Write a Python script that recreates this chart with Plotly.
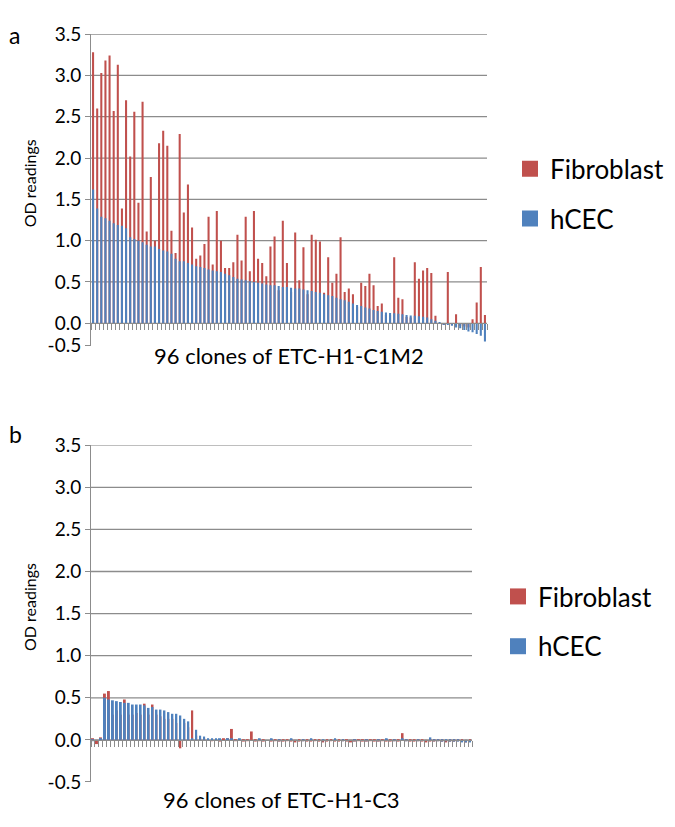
import plotly.graph_objects as go

# page geometry: the plot div sits 8px inside the page (default body margin)
OFF = 8
W, H = 675 - OFF, 827 - OFF

clones = list(range(1, 97))

fibro_a = [3.28, 2.60, 3.03, 3.18, 3.24, 2.57, 3.13, 1.39, 2.70, 2.02, 2.56, 1.46,
           2.68, 1.11, 1.77, 1.00, 2.18, 2.33, 2.15, 1.12, 0.85, 2.29, 1.34, 1.68,
           1.16, 0.78, 0.82, 0.96, 1.29, 0.71, 1.36, 1.00, 0.67, 0.67, 0.74, 1.07,
           0.76, 1.29, 0.63, 1.36, 0.78, 0.73, 0.57, 0.93, 1.05, 0.40, 1.24, 0.73,
           0.38, 1.10, 0.52, 0.92, 0.35, 1.07, 1.01, 0.99, 0.37, 0.80, 0.49, 0.60,
           1.04, 0.38, 0.42, 0.35, 0.20, 0.49, 0.45, 0.60, 0.46, 0.21, 0.24, 0.10,
           0.10, 0.80, 0.31, 0.29, 0.08, 0.07, 0.74, 0.54, 0.64, 0.67, 0.61, 0.09,
           0.00, -0.01, 0.62, -0.02, 0.11, -0.03, -0.04, -0.05, 0.05, 0.25, 0.68, 0.10]
hcec_a = [1.62, 1.39, 1.29, 1.27, 1.24, 1.21, 1.19, 1.18, 1.15, 1.04, 1.02, 1.00,
          0.98, 0.95, 0.93, 0.93, 0.90, 0.88, 0.87, 0.84, 0.78, 0.75, 0.75, 0.73,
          0.71, 0.69, 0.68, 0.67, 0.65, 0.64, 0.63, 0.62, 0.60, 0.58, 0.56, 0.54,
          0.53, 0.52, 0.51, 0.50, 0.49, 0.48, 0.47, 0.46, 0.46, 0.45, 0.44, 0.44,
          0.43, 0.42, 0.42, 0.41, 0.40, 0.39, 0.38, 0.37, 0.35, 0.34, 0.33, 0.31,
          0.29, 0.28, 0.26, 0.24, 0.22, 0.21, 0.19, 0.18, 0.16, 0.15, 0.14, 0.13,
          0.125, 0.12, 0.115, 0.11, 0.10, 0.095, 0.09, 0.085, 0.08, 0.07, 0.05, 0.03,
          0.01, -0.01, -0.02, -0.03, -0.05, -0.06, -0.08, -0.10, -0.11, -0.13, -0.15, -0.22]

fibro_b = [0.02, -0.05, 0.03,
           0.55, 0.58, 0.30, 0.35, 0.30, 0.48, 0.30, 0.30, 0.32, 0.30, 0.43, 0.30,
           0.42, 0.30, 0.28, 0.25, 0.25, 0.25, 0.20, -0.10, 0.20, 0.15,
           0.35, 0.05, 0.02, 0.01, 0.00, -0.01, 0.00, -0.02, 0.01, 0.02, 0.13, -0.01,
           0.00, -0.02, -0.01, 0.10,
           -0.02, -0.01, -0.02, 0.00, -0.02, -0.01, -0.02, -0.02, -0.01, -0.02,
           -0.03, -0.02, -0.01, -0.02, -0.02, -0.01, -0.02, -0.03, -0.02, -0.01,
           -0.02, -0.02, -0.01, -0.02, -0.03, -0.02, -0.01, -0.02, -0.02, -0.01,
           -0.02, -0.02, -0.01, -0.02, -0.02, -0.01, -0.02, 0.08, -0.01, -0.02,
           -0.02, -0.01, -0.02, -0.03, -0.02, -0.02, -0.01, -0.02, -0.03, -0.02,
           -0.02, -0.01, -0.02, -0.03, -0.02]
hcec_b = [-0.01, 0.00, 0.01,
          0.50, 0.48, 0.47, 0.46, 0.45, 0.44, 0.44, 0.42, 0.42, 0.42, 0.41, 0.38,
          0.39, 0.36, 0.36, 0.35, 0.33, 0.31, 0.31, 0.29, 0.25, 0.22,
          0.01, 0.12, 0.05, 0.04, 0.02, 0.01, 0.01, 0.01, 0.00, 0.01, 0.01, 0.00,
          0.01, 0.00, 0.00, 0.00,
          0.00, 0.01, 0.00, 0.00, 0.01, 0.00, -0.01, 0.00, 0.00, 0.01,
          0.00, 0.00, -0.01, 0.00, 0.01, 0.00, 0.00, -0.01, 0.00, 0.00,
          0.01, 0.00, -0.01, 0.00, 0.00, -0.01, 0.00, 0.00, -0.01, 0.00,
          0.00, -0.01, 0.00, 0.01, 0.00, -0.01, 0.00, 0.01, -0.01, 0.00,
          0.00, -0.01, 0.00, 0.00, 0.03, -0.01, -0.01, -0.02, -0.01, -0.02,
          -0.02, -0.02, -0.03, -0.03, -0.03]

series_names = ["Fibroblast", "hCEC"]
grid_vals = [0.0, 0.5, 1.0, 1.5, 2.0, 2.5, 3.0, 3.5]
y_ticktext = ["-0.5", "0.0", "0.5", "1.0", "1.5", "2.0", "2.5", "3.0", "3.5"]
x_titles = ["96 clones of ETC-H1-C1M2", "96 clones of ETC-H1-C3"]
panel_letters = ["a", "b"]

RED = "#C0504D"
BLUE = "#4F81BD"
GRID = "#8C8C8C"
FONT = "Lato"


def tx(p):
    return (p - OFF) / W


def ty(p):
    return 1 - (p - OFF) / H


# panel geometry in page pixels
panels = [
    dict(l=91, r=487, t=22.5, b=343, ymin=-0.27, leg_x=510, leg_y=137,
         letter_y=OFF, title_y=353, ytitle_y=176),
    dict(l=91, r=472, t=445.5, b=792, ymin=-0.5, leg_x=498, leg_y=577,
         letter_y=419, title_y=810, ytitle_y=612),
]

fig = go.Figure()
data = [(fibro_a, hcec_a), (fibro_b, hcec_b)]

for i, (fib, hc) in enumerate(data):
    xa = "x" if i == 0 else "x2"
    ya = "y" if i == 0 else "y2"
    leg = "legend" if i == 0 else "legend2"
    fig.add_trace(go.Bar(x=clones, y=fib, name=series_names[0], marker_color=RED,
                         marker_line_width=0, width=0.5, xaxis=xa, yaxis=ya,
                         showlegend=False))
    fig.add_trace(go.Bar(x=clones, y=hc, name=series_names[1], marker_color=BLUE,
                         marker_line_width=0, width=0.5, xaxis=xa, yaxis=ya,
                         showlegend=False))
    for j, (nm, col) in enumerate(zip(series_names, [RED, BLUE])):
        fig.add_trace(go.Scatter(x=[None], y=[None], mode="markers", name=nm,
                                 marker=dict(symbol="square", size=16, color=col),
                                 xaxis=xa, yaxis=ya, legend=leg,
                                 legendgroup=f"{i}{j}", showlegend=True))

layout = dict(
    width=W, height=H, autosize=False,
    margin=dict(l=0, r=0, t=0, b=0),
    paper_bgcolor="white", plot_bgcolor="white",
    barmode="overlay",
    font=dict(family=FONT, color="#000000"),
    shapes=[], annotations=[],
)

for i, p in enumerate(panels):
    sfx = "" if i == 0 else "2"
    ydom = [ty(p["b"]), ty(p["t"])]
    xdom = [tx(p["l"]), tx(p["r"])]
    ymin, ymax = p["ymin"], 3.5
    zero_pos = ydom[0] + (0 - ymin) / (ymax - ymin) * (ydom[1] - ydom[0])
    layout["xaxis" + sfx] = dict(
        domain=xdom, range=[0.5, 96.5], anchor="free", position=zero_pos,
        showline=True, linecolor=GRID, linewidth=1,
        ticks="outside", ticklen=6, tickcolor=GRID, tickwidth=1,
        tick0=0.5, dtick=1, showticklabels=False, showgrid=False, zeroline=False,
        fixedrange=True,
    )
    layout["yaxis" + sfx] = dict(
        domain=ydom, range=[ymin, ymax], anchor="x" + sfx,
        tickmode="array", tickvals=[ymin] + grid_vals, ticktext=y_ticktext,
        showline=True, linecolor=GRID, linewidth=1,
        ticks="outside", ticklen=5, tickcolor=GRID,
        showgrid=False, zeroline=False,
        tickfont=dict(size=19, family=FONT), fixedrange=True,
    )
    for g in grid_vals:
        layout["shapes"].append(dict(
            type="line", xref=("x" + sfx) + " domain", yref="y" + sfx,
            x0=0, x1=1, y0=g, y1=g, layer="below",
            line=dict(color=GRID, width=1.3)))
    layout["annotations"].append(dict(
        text="OD readings", textangle=-90, x=tx(29), y=ty(p["ytitle_y"]),
        xref="paper", yref="paper", showarrow=False, font=dict(size=16, family=FONT),
        xanchor="center", yanchor="middle"))
    layout["annotations"].append(dict(
        text=x_titles[i], x=(xdom[0] + xdom[1]) / 2, y=ty(p["title_y"]),
        xref="paper", yref="paper", showarrow=False, font=dict(size=22, family=FONT),
        xanchor="center", yanchor="middle"))
    layout["annotations"].append(dict(
        text=panel_letters[i], x=tx(OFF), y=ty(p["letter_y"]),
        xref="paper", yref="paper", showarrow=False, font=dict(size=23, family=FONT),
        xanchor="left", yanchor="top", borderpad=0))
    layout["legend" + sfx] = dict(
        x=tx(p["leg_x"]), y=ty(p["leg_y"]), xanchor="left", yanchor="top",
        xref="paper", yref="paper", font=dict(size=26, family=FONT),
        bgcolor="rgba(0,0,0,0)", traceorder="grouped", tracegroupgap=13,
        itemwidth=30,
    )

fig.update_layout(**layout)
fig.write_html("out.html")
